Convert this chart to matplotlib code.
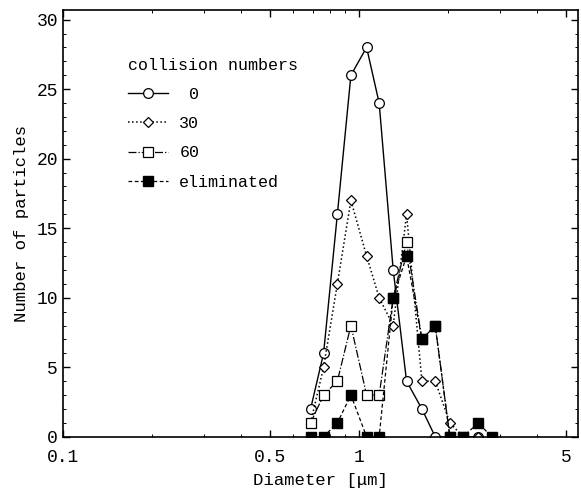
import matplotlib
matplotlib.use("Agg")
import matplotlib.pyplot as plt
from matplotlib.ticker import FixedLocator, NullFormatter, MultipleLocator

plt.rcParams['font.family'] = ['Liberation Mono', 'Noto Sans CJK JP', 'DejaVu Sans']

# particle diameter bins [um]
d_0 = [0.687, 0.760, 0.846, 0.940, 1.062, 1.171, 1.306, 1.449, 1.633, 1.811, 2.029, 2.25, 2.53]
n_0 = [2, 6, 16, 26, 28, 24, 12, 4, 2, 0, 0, 0, 0]

d_30 = [0.687, 0.760, 0.846, 0.940, 1.062, 1.171, 1.306, 1.449, 1.633, 1.811, 2.029, 2.25, 2.53]
n_30 = [1, 5, 11, 17, 13, 10, 8, 16, 4, 4, 1, 0, 0]

d_60 = [0.687, 0.760, 0.846, 0.940, 1.062, 1.171, 1.306, 1.449, 1.633, 1.811, 2.029, 2.25]
n_60 = [1, 3, 4, 8, 3, 3, 10, 14, 7, 8, 0, 0]

d_elim = [0.687, 0.760, 0.846, 0.940, 1.062, 1.171, 1.306, 1.449, 1.633, 1.811, 2.029, 2.25, 2.53, 2.81]
n_elim = [0, 0, 1, 3, 0, 0, 10, 13, 7, 8, 0, 0, 1, 0]

series_labels = [' 0', '30', '60', 'eliminated']

fig = plt.figure(figsize=(5.81, 4.93), dpi=100)
ax = fig.add_axes([0.108, 0.114, 0.887, 0.866])

ax.plot(d_0, n_0, '-', color='black', lw=1.0, marker='o', ms=7,
        mfc='white', mec='black', mew=0.9, label=series_labels[0])
ax.plot(d_30, n_30, ':', color='black', lw=1.1, marker='D', ms=4.8,
        mfc='white', mec='black', mew=0.9, label=series_labels[1])
ax.plot(d_60, n_60, '-.', color='black', lw=0.9, marker='s', ms=6.5,
        mfc='white', mec='black', mew=0.9, label=series_labels[2])
ax.plot(d_elim, n_elim, '--', color='black', lw=0.9, marker='s', ms=6.5,
        mfc='black', mec='black', dashes=(3, 2), label=series_labels[3])

ax.set_xscale('log')
ax.set_xlim(0.1, 5.5)
ax.set_ylim(0, 30.7)

ax.xaxis.set_major_locator(FixedLocator([0.1, 0.5, 1, 5]))
ax.set_xticklabels(['0.1', '0.5', '1', '5'])
ax.xaxis.set_minor_formatter(NullFormatter())
ax.yaxis.set_major_locator(FixedLocator([0, 5, 10, 15, 20, 25, 30]))
ax.yaxis.set_minor_locator(MultipleLocator(1))

ax.tick_params(which='both', direction='in', top=True, right=True, labelsize=13)
ax.tick_params(which='major', length=5, width=1)
ax.tick_params(which='minor', length=2.5, width=0.7)
ax.tick_params(axis='x', which='major', pad=9)
for s in ax.spines.values():
    s.set_linewidth(1.2)

ax.set_xlabel('Diameter [\u03bcm]', fontsize=12.5, labelpad=5)
ax.set_ylabel('Number of particles', fontsize=12.5, labelpad=5)

leg = ax.legend(title='collision numbers', loc='upper left', bbox_to_anchor=(0.113, 0.903),
                frameon=False, fontsize=12, title_fontsize=12, handlelength=2.4,
                handletextpad=0.7, labelspacing=0.85, borderaxespad=0)
leg._legend_box.align = 'left'

fig.savefig('out.png', dpi=100)
